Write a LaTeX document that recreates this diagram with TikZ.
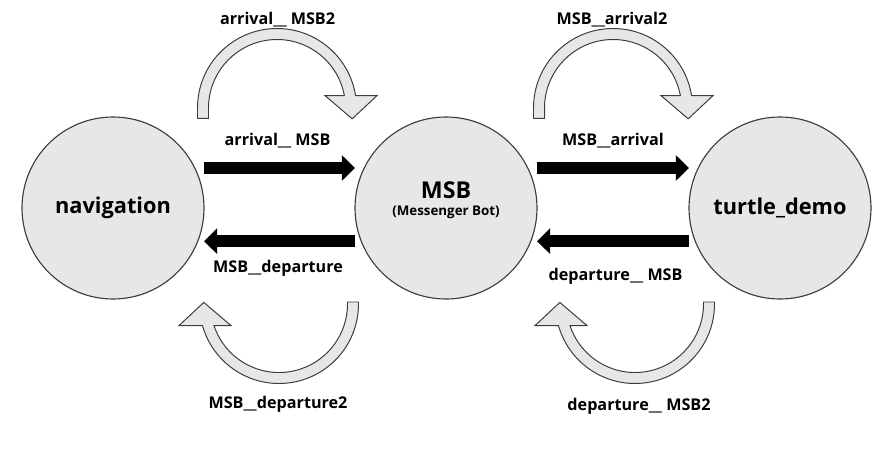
\documentclass[tikz,border=0pt]{standalone}
\usepackage{fontspec}
\setmainfont{Open Sans}
\usetikzlibrary{arrows.meta}

\definecolor{softgray}{RGB}{231,231,231}
\definecolor{rimgray}{RGB}{60,60,60}

\tikzset{
  agent/.style={circle, draw=rimgray, fill=softgray, line width=0.8pt, minimum size=4.55cm, inner sep=0pt, outer sep=0pt, font=\bfseries\fontsize{15.5}{18}\selectfont},
  flow/.style={black, line width=0.3cm, -{Triangle[length=0.33cm, width=0.625cm]}},
  flowlabel/.style={anchor=base, font=\bfseries\fontsize{11.5}{13}\selectfont},
  bendbox/.style={draw=rimgray, fill=softgray, line width=0.7pt}
}

\newcommand{\bendarrow}[5]{%
  \begin{scope}[shift={(#1,#2)}, rotate=#3]
    \filldraw[bendbox] (-1.9875,-#4) -- (180:1.9875)
      arc[start angle=180, end angle={asin(#5/1.9875)}, radius=1.9875]
      -- (2.5,#5) -- (1.88,{#5-0.58}) -- (1.2,#5)
      -- ({sqrt(1.7125*1.7125-#5*#5)},#5)
      arc[start angle={asin(#5/1.7125)}, end angle=180, radius=1.7125]
      -- (-1.7125,-#4) -- cycle;
  \end{scope}}

\begin{document}
\begin{tikzpicture}
            \useasboundingbox (0,-6.225) rectangle (22.4,5.2);

            \node[agent] (nav) at (2.825,0) {navigation};
            \node[agent] (msb) at (11.15,0) {};
            \node[anchor=base, font=\bfseries\fontsize{16.5}{19}\selectfont] (msbname) at (11.15,0.25) {MSB};
            \node[anchor=base, font=\bfseries\fontsize{9.5}{11}\selectfont] (msbfull) at (11.15,-0.175) {(Messenger Bot)};
            \node[agent] (turtle) at (19.5,0) {turtle\_demo};

            \draw[flow] ([yshift=1cm]nav.east) -- ([yshift=1cm]msb.west);
            \draw[flow] ([yshift=-0.83cm]msb.west) -- ([yshift=-0.83cm]nav.east);
            \draw[flow] ([yshift=1cm]msb.east) -- ([yshift=1cm]turtle.west);
            \draw[flow] ([yshift=-0.83cm]turtle.west) -- ([yshift=-0.83cm]msb.east);

            \bendarrow{6.925}{2.5}{0}{0.26}{0.31}
            \bendarrow{15.325}{2.5}{0}{0.26}{0.31}
            \bendarrow{6.975}{-2.4}{180}{0.05}{0.54}
            \bendarrow{15.875}{-2.4}{180}{0.05}{0.54}

            \node[flowlabel] (arrmsbtwo) at (6.94,4.575) {arrival\_\_ MSB2};
            \node[flowlabel] (arrmsb) at (6.94,1.575) {arrival\_\_ MSB};
            \node[flowlabel] (msbdep) at (6.95,-1.6) {MSB\_\_departure};
            \node[flowlabel] (msbdeptwo) at (6.95,-5.0) {MSB\_\_departure2};
            \node[flowlabel] (msbarrtwo) at (15.3,4.575) {MSB\_\_arrival2};
            \node[flowlabel] (msbarr) at (15.325,1.575) {MSB\_\_arrival};
            \node[flowlabel] (depmsb) at (15.39,-1.8) {departure\_\_ MSB};
            \node[flowlabel] (depmsbtwo) at (15.975,-5.05) {departure\_\_ MSB2};
\end{tikzpicture}
\end{document}
